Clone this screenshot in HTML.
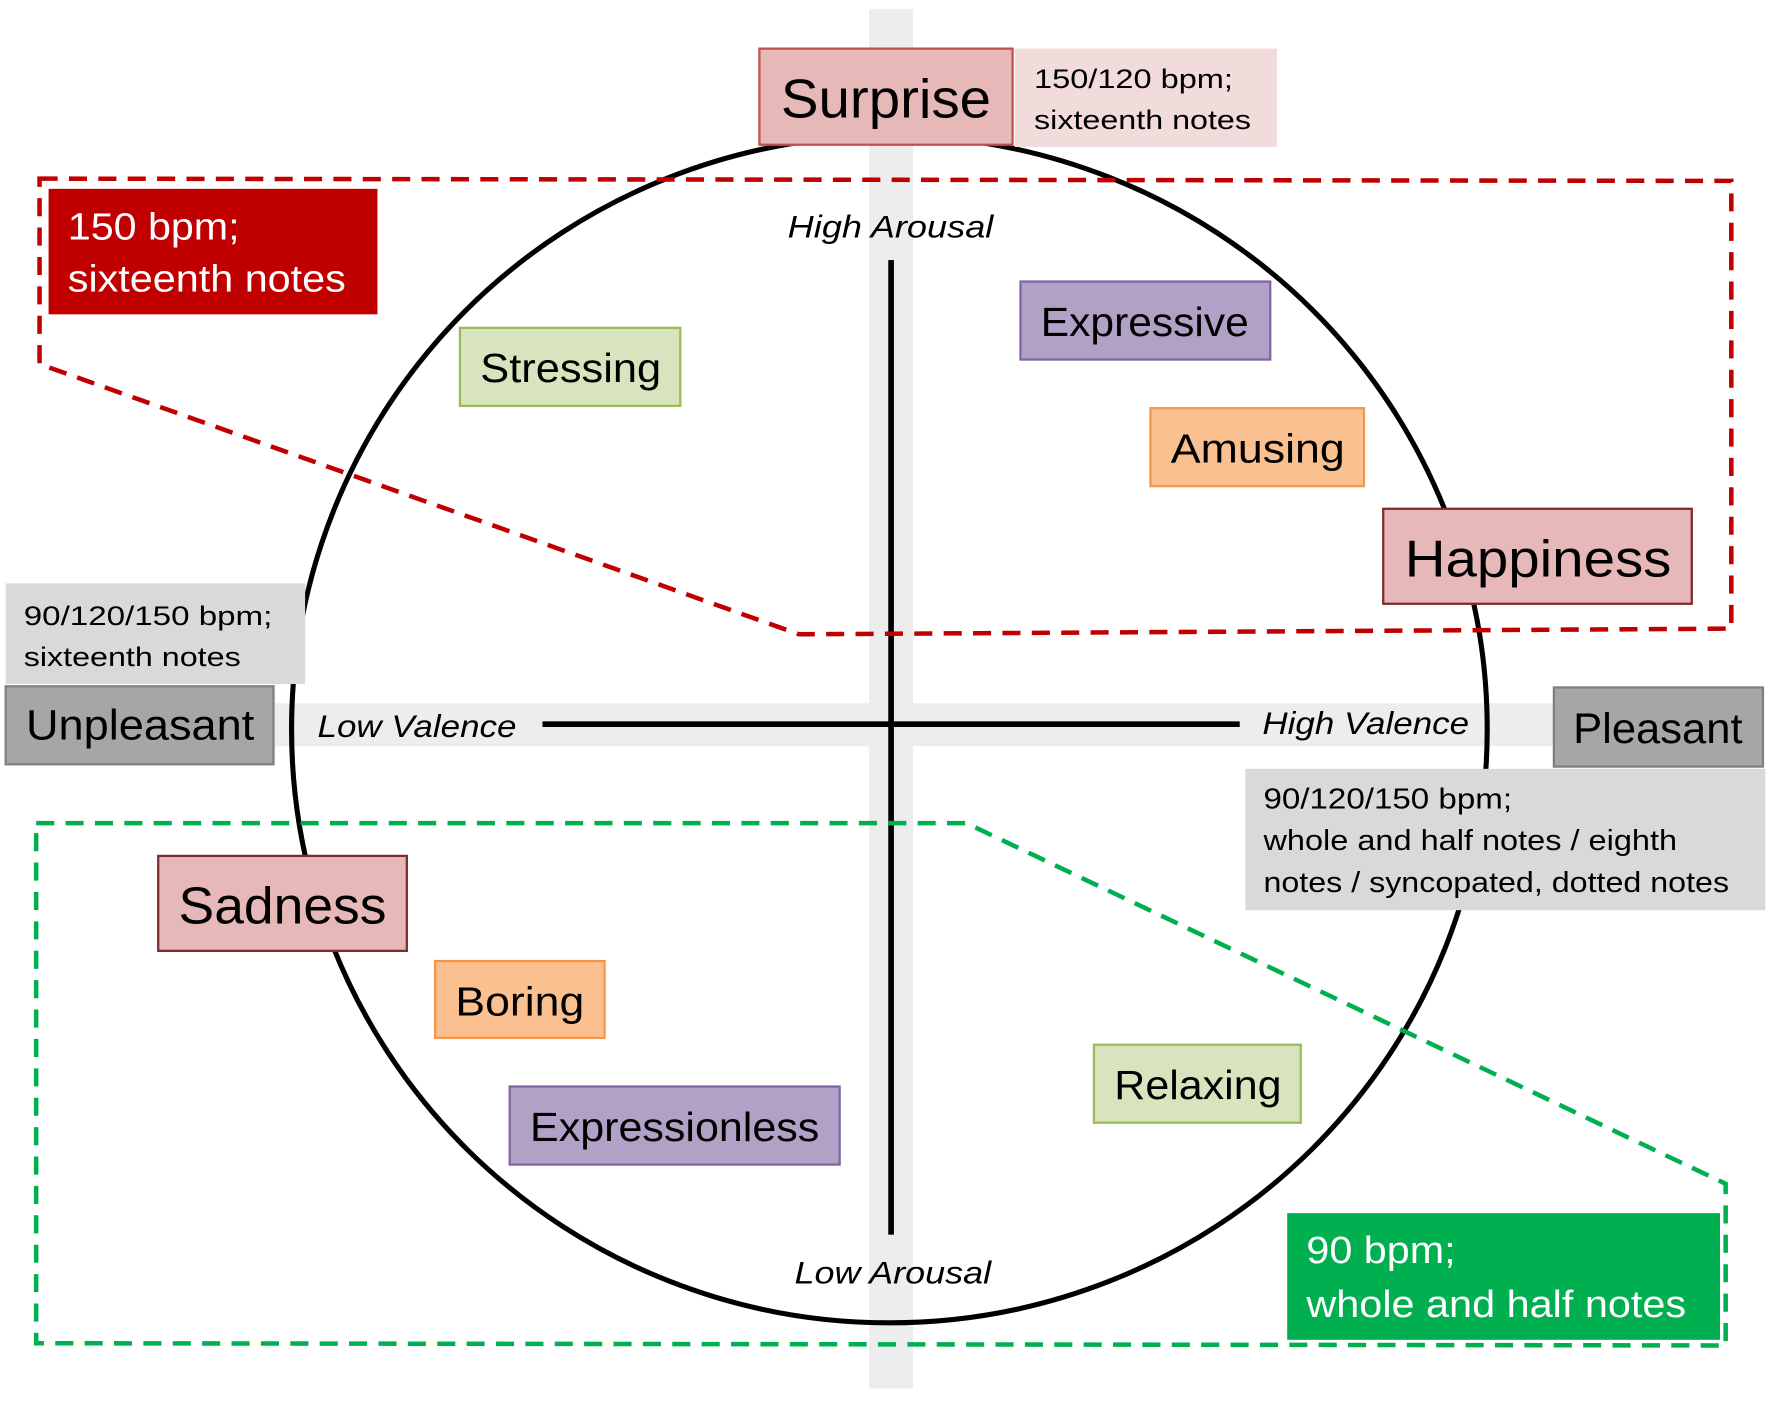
<!DOCTYPE html>
<html><head><meta charset="utf-8"><style>html,body{margin:0;padding:0;background:#fff}svg{display:block}text{font-family:"Liberation Sans",sans-serif}</style></head>
<body>
<svg width="1772" height="1402" viewBox="0 0 1568 1240" preserveAspectRatio="none" xmlns="http://www.w3.org/2000/svg">
<rect x="769" y="8" width="39" height="1220" fill="#ededed"/>
<rect x="243" y="622" width="1132" height="38" fill="#ededed"/>
<ellipse cx="787" cy="645" rx="529" ry="525" fill="none" stroke="#000" stroke-width="4.5"/>
<rect x="786" y="230" width="5" height="862" fill="#000"/>
<rect x="480" y="638" width="617" height="5" fill="#000"/>
<polygon points="35,158 1532,160 1532,556 707,561 35,322" fill="none" stroke="#c00000" stroke-width="4" stroke-dasharray="16,10"/>
<polygon points="32,728 855,728 1527,1047 1527,1190 32,1188" fill="none" stroke="#00b050" stroke-width="4" stroke-dasharray="16,10"/>
<rect x="672" y="43" width="224" height="85" fill="#e6b8b7" stroke="#c0504d" stroke-width="2"/>
<text x="784" y="104" font-size="48" text-anchor="middle" textLength="186" lengthAdjust="spacingAndGlyphs">Surprise</text>
<rect x="898" y="43" width="232" height="87" fill="#f2dcdb"/>
<text x="915" y="78" font-size="24" textLength="176" lengthAdjust="spacingAndGlyphs">150/120 bpm;</text>
<text x="915" y="114" font-size="24" textLength="192" lengthAdjust="spacingAndGlyphs">sixteenth notes</text>
<rect x="43" y="167" width="291" height="111" fill="#c00000"/>
<text x="60" y="212" font-size="34" fill="#fff" textLength="152" lengthAdjust="spacingAndGlyphs">150 bpm;</text>
<text x="60" y="258" font-size="34" fill="#fff" textLength="246" lengthAdjust="spacingAndGlyphs">sixteenth notes</text>
<text x="788" y="210" font-size="28" font-style="italic" text-anchor="middle" textLength="182" lengthAdjust="spacingAndGlyphs">High Arousal</text>
<rect x="903" y="249" width="221" height="69" fill="#b2a1c7" stroke="#8064a2" stroke-width="2"/>
<text x="1013" y="297" font-size="36" text-anchor="middle" textLength="184" lengthAdjust="spacingAndGlyphs">Expressive</text>
<rect x="407" y="290" width="195" height="69" fill="#d7e4bd" stroke="#9bbb59" stroke-width="2"/>
<text x="505" y="338" font-size="36" text-anchor="middle" textLength="160" lengthAdjust="spacingAndGlyphs">Stressing</text>
<rect x="1018" y="361" width="189" height="69" fill="#fac090" stroke="#f79646" stroke-width="2"/>
<text x="1113" y="409" font-size="36" text-anchor="middle" textLength="154" lengthAdjust="spacingAndGlyphs">Amusing</text>
<rect x="1224" y="450" width="273" height="84" fill="#e6b8b7" stroke="#7f2b2b" stroke-width="2"/>
<text x="1361" y="510" font-size="46" text-anchor="middle" textLength="236" lengthAdjust="spacingAndGlyphs">Happiness</text>
<rect x="5" y="516" width="265" height="89" fill="#d9d9d9"/>
<text x="21" y="553" font-size="24" textLength="220" lengthAdjust="spacingAndGlyphs">90/120/150 bpm;</text>
<text x="21" y="589" font-size="24" textLength="192" lengthAdjust="spacingAndGlyphs">sixteenth notes</text>
<rect x="5" y="607" width="237" height="69" fill="#a6a6a6" stroke="#7f7f7f" stroke-width="2"/>
<text x="124" y="654" font-size="38" text-anchor="middle" textLength="202" lengthAdjust="spacingAndGlyphs">Unpleasant</text>
<text x="281" y="652" font-size="28" font-style="italic" textLength="176" lengthAdjust="spacingAndGlyphs">Low Valence</text>
<text x="1117" y="649" font-size="28" font-style="italic" textLength="183" lengthAdjust="spacingAndGlyphs">High Valence</text>
<rect x="1375" y="608" width="185" height="70" fill="#a6a6a6" stroke="#7f7f7f" stroke-width="2"/>
<text x="1467" y="657" font-size="38" text-anchor="middle" textLength="150" lengthAdjust="spacingAndGlyphs">Pleasant</text>
<rect x="1102" y="680" width="460" height="125" fill="#d9d9d9"/>
<text x="1118" y="715" font-size="25" textLength="220" lengthAdjust="spacingAndGlyphs">90/120/150 bpm;</text>
<text x="1118" y="752" font-size="25" textLength="366" lengthAdjust="spacingAndGlyphs">whole and half notes / eighth</text>
<text x="1118" y="789" font-size="25" textLength="412" lengthAdjust="spacingAndGlyphs">notes / syncopated, dotted notes</text>
<rect x="140" y="757" width="220" height="84" fill="#e6b8b7" stroke="#7f2b2b" stroke-width="2"/>
<text x="250" y="817" font-size="46" text-anchor="middle" textLength="184" lengthAdjust="spacingAndGlyphs">Sadness</text>
<rect x="385" y="850" width="150" height="68" fill="#fac090" stroke="#f79646" stroke-width="2"/>
<text x="460" y="898" font-size="36" text-anchor="middle" textLength="114" lengthAdjust="spacingAndGlyphs">Boring</text>
<rect x="451" y="961" width="292" height="69" fill="#b2a1c7" stroke="#8064a2" stroke-width="2"/>
<text x="597" y="1009" font-size="36" text-anchor="middle" textLength="256" lengthAdjust="spacingAndGlyphs">Expressionless</text>
<rect x="968" y="924" width="183" height="69" fill="#d7e4bd" stroke="#9bbb59" stroke-width="2"/>
<text x="1060" y="972" font-size="36" text-anchor="middle" textLength="148" lengthAdjust="spacingAndGlyphs">Relaxing</text>
<text x="790" y="1135" font-size="28" font-style="italic" text-anchor="middle" textLength="174" lengthAdjust="spacingAndGlyphs">Low Arousal</text>
<rect x="1139" y="1073" width="383" height="112" fill="#00b050"/>
<text x="1156" y="1117" font-size="34" fill="#fff" textLength="132" lengthAdjust="spacingAndGlyphs">90 bpm;</text>
<text x="1156" y="1165" font-size="34" fill="#fff" textLength="336" lengthAdjust="spacingAndGlyphs">whole and half notes</text>
</svg>
</body></html>
